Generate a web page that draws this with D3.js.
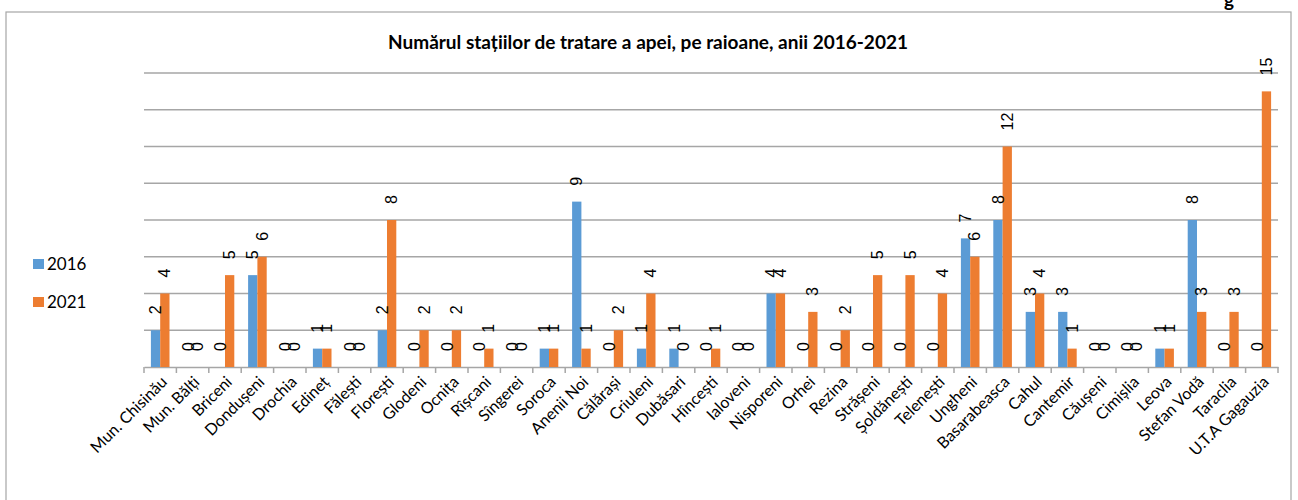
<!DOCTYPE html>
<html lang="ro">
<head>
<meta charset="utf-8">
<style>
body {
  margin: 0;
  background: #fff;
}
.grid line { stroke: #a6a6a6; stroke-width: 1.5; }
.title { font-family: Lato, 'Open Sans', sans-serif; font-weight: bold; font-size: 19px; fill: #000; }
.cat { font-family: Lato, 'Open Sans', sans-serif; font-size: 16px; fill: #000; }
.val { font-family: 'Liberation Sans', Arial, sans-serif; font-size: 16px; fill: #000; }
.leg { font-family: Lato, 'Open Sans', sans-serif; font-size: 17px; fill: #000; }
</style>
<title>Numărul stațiilor de tratare a apei</title>
<script src="https://cdn.jsdelivr.net/npm/d3@7"></script>
</head>
<body>
<div id="chart"></div>
<script>

var raioane = ["Mun. Chisinău", "Mun. Bălți", "Briceni", "Dondușeni", "Drochia", "Edineț", "Fălești",
  "Florești", "Glodeni", "Ocnița", "Rîșcani", "Sîngerei", "Soroca", "Anenii Noi", "Călărași",
  "Criuleni", "Dubăsari", "Hîncești", "Ialoveni", "Nisporeni", "Orhei", "Rezina", "Strășeni",
  "Șoldănești", "Telenești", "Ungheni", "Basarabeasca", "Cahul", "Cantemir", "Căușeni",
  "Cimișlia", "Leova", "Stefan Vodă", "Taraclia", "U.T.A Gagauzia"];

var ani = ["2016", "2021"];

var v2016 = [2, 0, 0, 5, 0, 1, 0, 2, 0, 0, 0, 0, 1, 9, 0, 1, 1, 0, 0, 4, 0, 0, 0, 0, 0, 7, 8, 3, 3, 0, 0, 1, 8, 0, 0];
var v2021 = [4, 0, 5, 6, 0, 1, 0, 8, 2, 2, 1, 0, 1, 1, 2, 4, 0, 1, 0, 4, 3, 2, 5, 5, 4, 6, 12, 4, 1, 0, 0, 1, 3, 3, 15];

var gridValues = [2, 4, 6, 8, 10, 12, 14, 16];

var culori = ["#5b9bd5", "#ed7d31"];

var w = 1298, h = 500;

var svg = d3.select("#chart").append("svg")
  .attr("width", w)
  .attr("height", h);

// chart frame
svg.append("rect")
  .attr("x", 6).attr("y", 12)
  .attr("width", 1285).attr("height", 520)
  .attr("fill", "none")
  .attr("stroke", "#a6a6a6")
  .attr("stroke-width", 1.2);

// text cut off above the frame
svg.append("text")
  .attr("x", 1224).attr("y", 7)
  .attr("class", "title")
  .style("font-size", "19px")
  .text("g");

svg.append("text")
  .attr("class", "title")
  .attr("x", 648).attr("y", 49)
  .attr("text-anchor", "middle")
  .text("Numărul stațiilor de tratare a apei, pe raioane, anii 2016-2021");

var x = d3.scaleBand()
  .domain(raioane)
  .range([144, 1278])
  .paddingInner(0.426)
  .paddingOuter(0.213);

var xs = d3.scaleBand()
  .domain(ani)
  .range([0, x.bandwidth()]);

var y = d3.scaleLinear()
  .domain([0, 16])
  .range([367, 73]);

// gridlines
svg.append("g").attr("class", "grid")
  .selectAll("line")
  .data(gridValues)
  .enter().append("line")
  .attr("x1", 144).attr("x2", 1278)
  .attr("y1", function(d){ return y(d); })
  .attr("y2", function(d){ return y(d); });

// x axis
var xAxis = d3.axisBottom(x).tickSize(0).tickFormat("");
var ax = svg.append("g")
  .attr("transform", "translate(0," + y(0) + ")")
  .call(xAxis);
ax.select(".domain").attr("stroke", "#a6a6a6").attr("stroke-width", 1.5);

// tick marks between categories
var step = x.step();
var bounds = raioane.map(function(d){ return x(d) - x.paddingOuter() * step; });
bounds.push(1278);
ax.selectAll(".sep")
  .data(bounds)
  .enter().append("line")
  .attr("x1", function(d){ return d; })
  .attr("x2", function(d){ return d; })
  .attr("y1", 0).attr("y2", 6)
  .attr("stroke", "#a6a6a6")
  .attr("stroke-width", 1.5);

// category labels
svg.append("g").selectAll("text")
  .data(raioane)
  .enter().append("text")
  .attr("class", "cat")
  .attr("text-anchor", "end")
  .attr("transform", function(d){
    return "translate(" + (x(d) + x.bandwidth() / 2 + 4) + "," + (y(0) + 12) + ") rotate(-45)";
  })
  .attr("dy", "0.35em")
  .text(function(d){ return d; });

// bars
var rows = raioane.map(function(r, i){
  return { raion: r, vals: [
    { an: "2016", v: v2016[i] },
    { an: "2021", v: v2021[i] }
  ]};
});

var groups = svg.append("g").selectAll("g")
  .data(rows)
  .enter().append("g")
  .attr("transform", function(d){ return "translate(" + x(d.raion) + ",0)"; });

groups.selectAll("rect")
  .data(function(d){ return d.vals; })
  .enter().append("rect")
  .attr("x", function(d){ return xs(d.an); })
  .attr("width", xs.bandwidth())
  .attr("y", function(d){ return y(d.v); })
  .attr("height", function(d){ return y(0) - y(d.v); })
  .attr("fill", function(d, i){ return culori[i]; });

// value labels
groups.selectAll("text")
  .data(function(d){ return d.vals; })
  .enter().append("text")
  .attr("class", "val")
  .attr("transform", function(d){
    return "translate(" + (xs(d.an) + xs.bandwidth() / 2) + "," + (y(d.v) - 16) + ") rotate(-90)";
  })
  .attr("dy", "0.35em")
  .text(function(d){ return d.v; });

// legend
var leg = svg.append("g").selectAll("g")
  .data(ani)
  .enter().append("g")
  .attr("transform", function(d, i){ return "translate(33," + (259 + i * 38) + ")"; });

leg.append("rect")
  .attr("width", 11).attr("height", 10)
  .attr("fill", function(d, i){ return culori[i]; });

leg.append("text")
  .attr("class", "leg")
  .attr("x", 14).attr("y", 11)
  .text(function(d){ return d; });

</script>
</body>
</html>
